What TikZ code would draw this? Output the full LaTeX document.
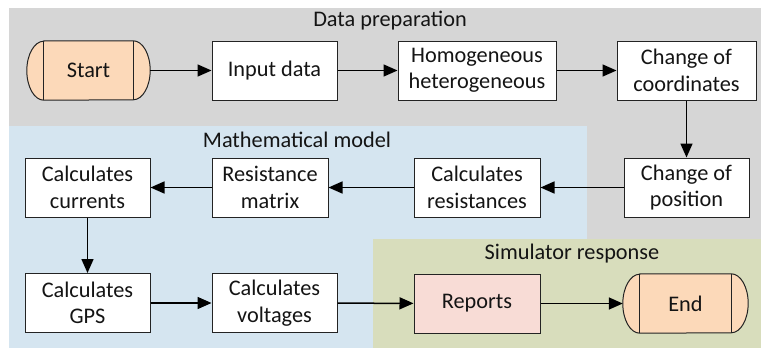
\documentclass[tikz,border=0pt]{standalone}
\usepackage{fontspec}
\setmainfont{Carlito}
\usetikzlibrary{arrows.meta}

\definecolor{prepbg}{RGB}{214,214,214}
\definecolor{modelbg}{RGB}{213,229,240}
\definecolor{simbg}{RGB}{216,221,188}
\definecolor{termfill}{RGB}{252,217,185}
\definecolor{reportfill}{RGB}{248,220,214}
\definecolor{edgecol}{RGB}{35,35,35}
\definecolor{textcol}{RGB}{20,20,20}

\pgfdeclarelayer{panel}
\pgfdeclarelayer{outline}
\pgfsetlayers{panel,outline,main}

% rounded terminal outline drawn behind the named node
\newcommand\terminaloutline[1]{%
  \begin{pgfonlayer}{outline}
    \draw[edgecol, line width=1pt, fill=termfill]
      ([xshift=17pt]#1.north west) -- ([xshift=-17pt]#1.north east)
      arc[start angle=90, end angle=-90, x radius=17pt, y radius=29.5pt]
      -- ([xshift=17pt]#1.south west)
      arc[start angle=270, end angle=90, x radius=17pt, y radius=29.5pt]
      -- cycle;
    \draw[edgecol, line width=1pt]
      ([xshift=17pt]#1.north west) -- ([xshift=17pt]#1.south west)
      ([xshift=-17pt]#1.north east) -- ([xshift=-17pt]#1.south east);
  \end{pgfonlayer}}

\begin{document}
\begin{tikzpicture}[x=1pt, y=-1pt,
  font=\fontsize{22.3}{26.5}\selectfont, text=textcol,
  box/.style={draw=edgecol, line width=1pt, fill=white, align=center,
    inner sep=0pt, minimum height=59pt},
  term/.style={align=center, inner sep=0pt, minimum height=59pt},
  title/.style={inner sep=0pt, anchor=center},
  flow/.style={-{Triangle[length=14pt, width=12pt]}, line width=1.5pt}]

\useasboundingbox (0,0) rectangle (761,351);

% stage panels
\begin{pgfonlayer}{panel}
  \fill[prepbg]  (9,8)    rectangle (761,240);
  \fill[modelbg] (9,126)  rectangle (587,348);
  \fill[simbg]   (373,239) rectangle (761,348);
\end{pgfonlayer}

\node[title] (tprep) at (390,21)  {Data preparation};
\node[title] (tmod)  at (297,140) {Mathematical model};
\node[title] (tsim)  at (572,254) {Simulator response};

% first row
\node[term] (start) at (88.5,70.5) [minimum width=123pt] {Start};
\node[box] (input)  at (274.5,70.5) [minimum width=125pt] {Input data};
\node[box] (homog)  at (477,70.5)   [minimum width=158pt] {Homogeneous\\heterogeneous};
\node[box] (coords) at (686.5,70.5) [minimum width=139pt] {Change of\\coordinates};

% second row
\node[box] (curr)    at (87.5,187.5)  [minimum width=125pt] {Calculates\\currents};
\node[box] (resmat)  at (270,187.5)   [minimum width=116pt] {Resistance\\matrix};
\node[box] (calcres) at (477,187.5)   [minimum width=126pt] {Calculates\\resistances};
\node[box] (pos)     at (686.5,187.5) [minimum width=125pt] {Change of\\position};

% third row
\node[box] (gps)     at (87.5,303)    [minimum width=125pt] {Calculates\\GPS};
\node[box] (volt)    at (274.5,303)   [minimum width=125pt] {Calculates\\voltages};
\node[box, fill=reportfill] (reports) at (477,303.5) [minimum width=126pt] {Reports};
\node[term] (finish) at (685.5,303.5) [minimum width=125pt] {End};

\terminaloutline{start}
\terminaloutline{finish}

% connectors
\draw[flow] (start)   -- (input);
\draw[flow] (input)   -- (homog);
\draw[flow] (homog)   -- (coords);
\draw[flow] (coords)  -- (pos);
\draw[flow] (pos)     -- (calcres);
\draw[flow] (calcres) -- (resmat);
\draw[flow] (resmat)  -- (curr);
\draw[flow] (curr)    -- (gps);
\draw[flow] (gps)     -- (volt);
\draw[flow] (volt)    -- (reports);
\draw[flow] (reports) -- (finish);

\end{tikzpicture}
\end{document}
